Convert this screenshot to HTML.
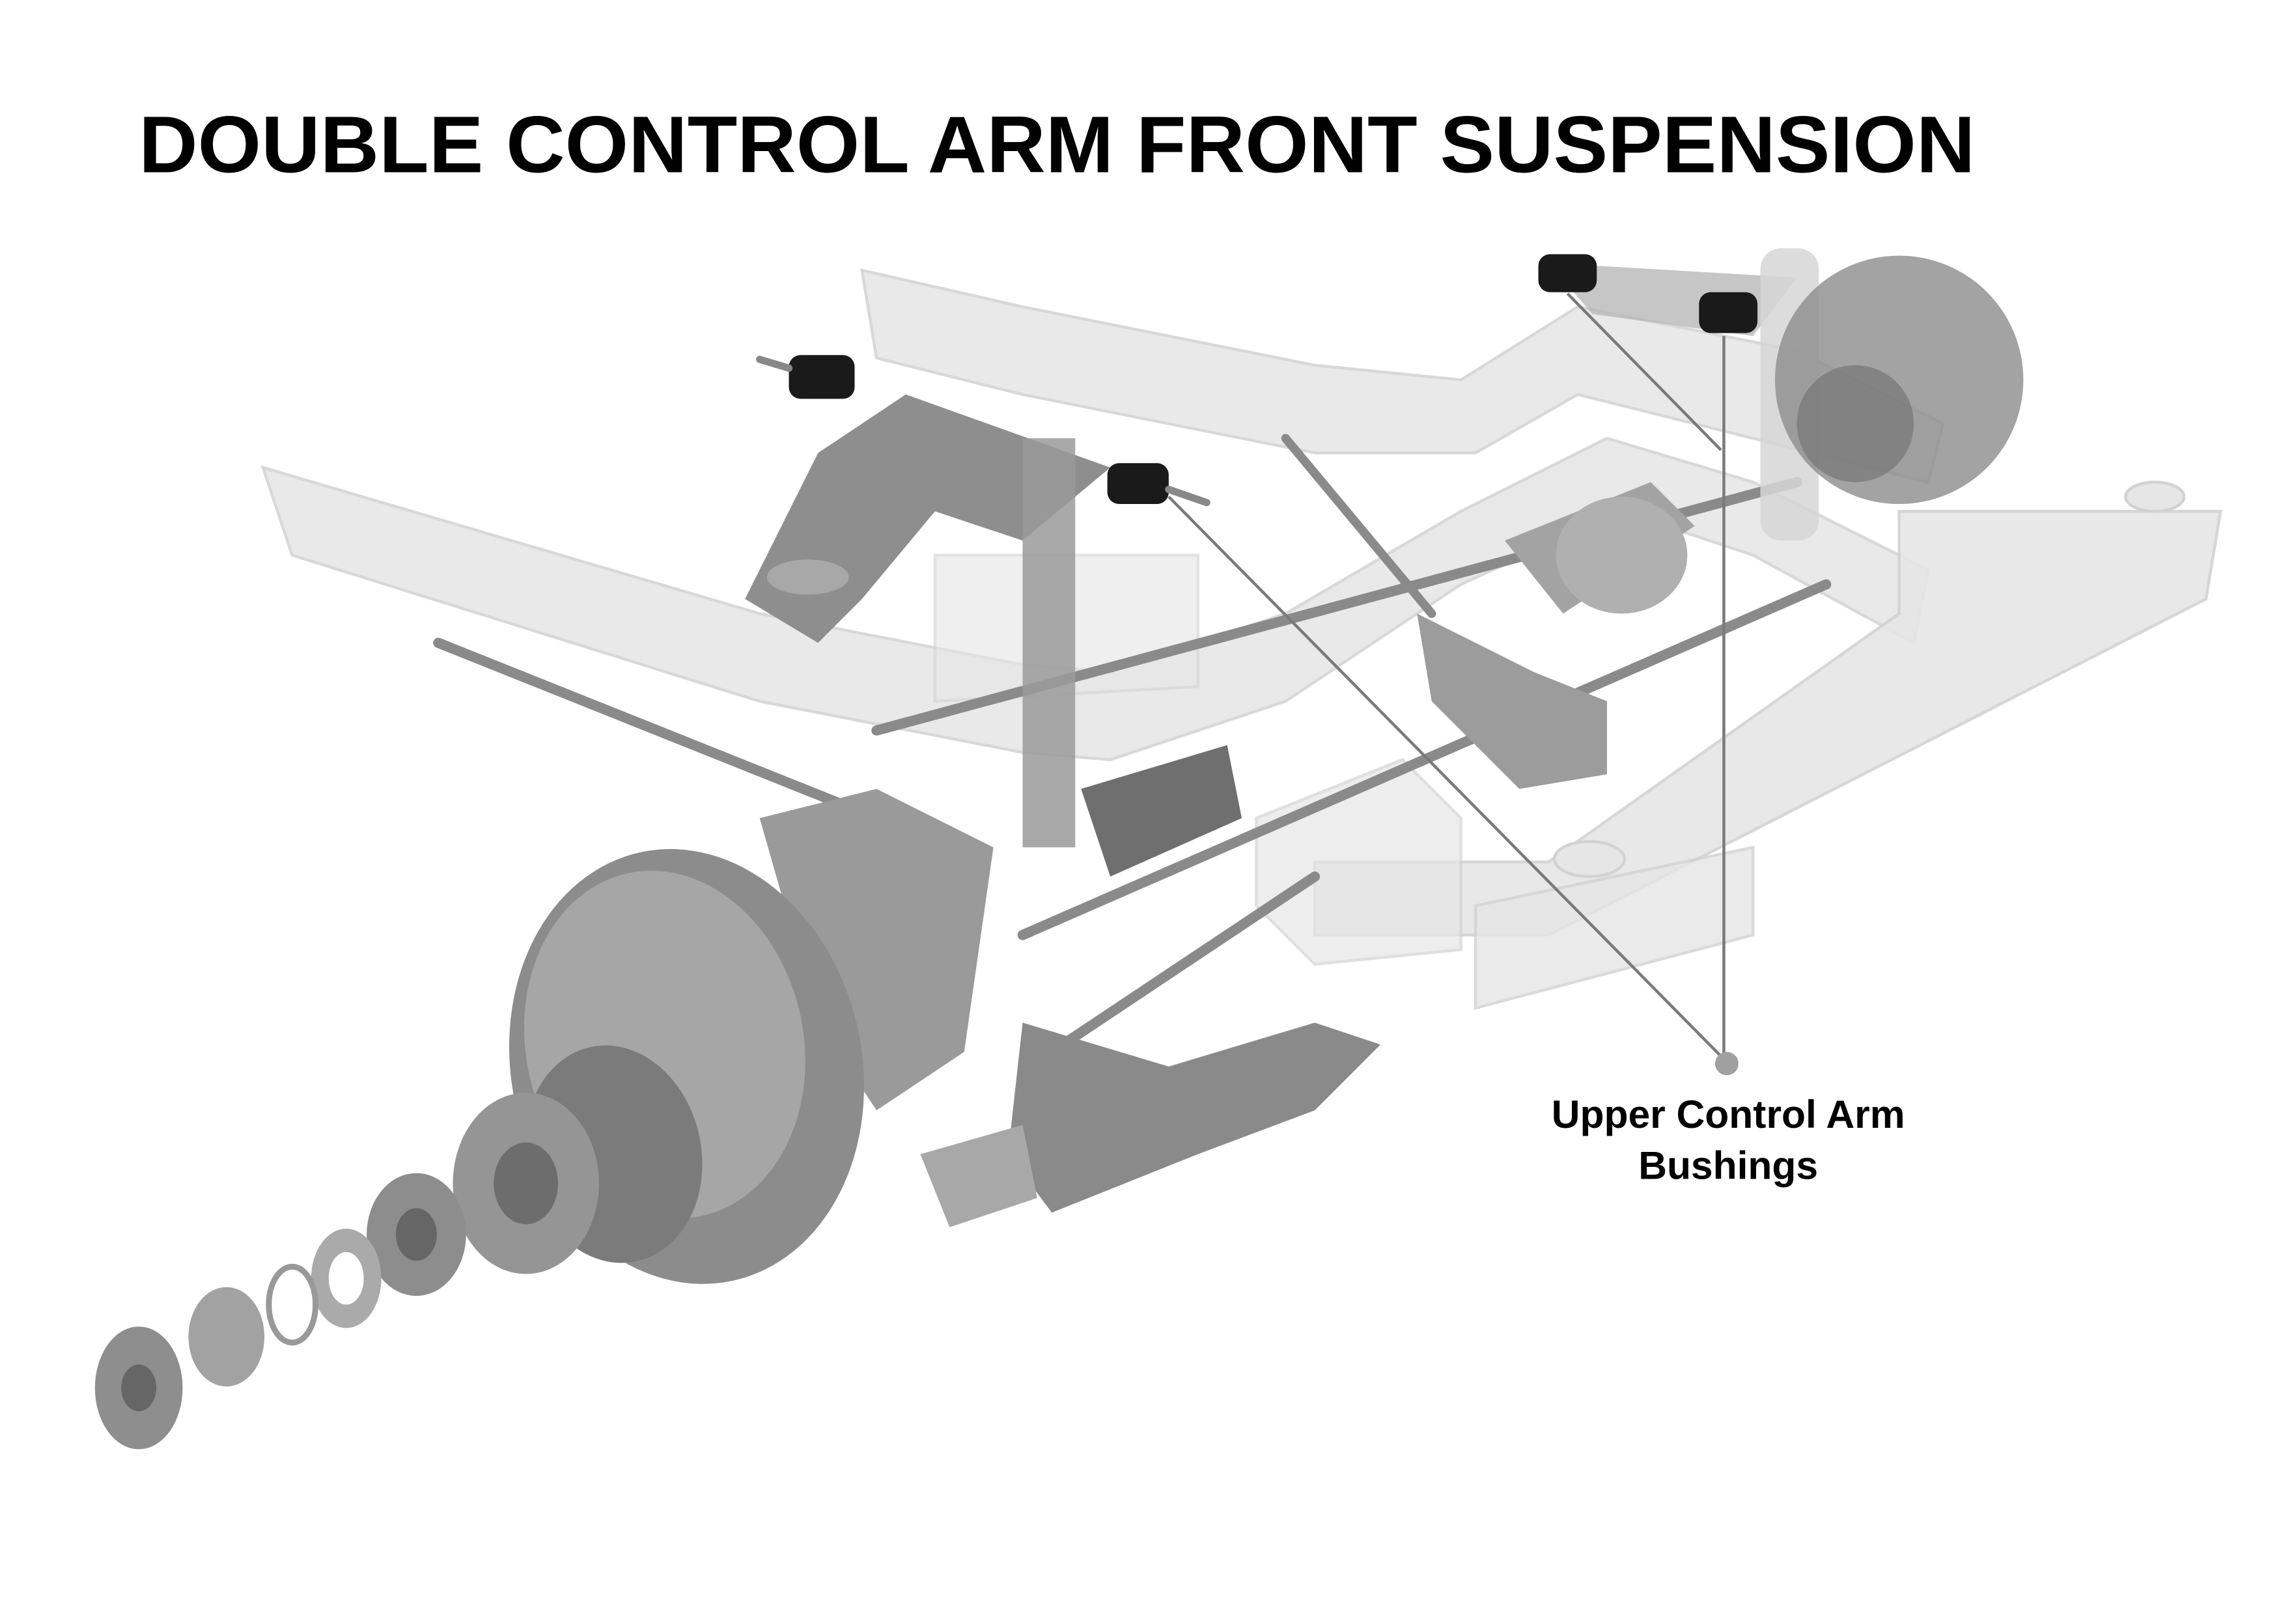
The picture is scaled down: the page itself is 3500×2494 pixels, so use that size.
<!DOCTYPE html>
<html><head><style>
html,body{margin:0;padding:0;background:#fff;}
svg{display:block;}
</style></head><body>
<svg width="3500" height="2494" viewBox="0 0 1560 1111.6" xmlns="http://www.w3.org/2000/svg">
<rect width="1560" height="1112" fill="#fff"/>
<text x="95" y="118" font-family="Liberation Sans, sans-serif" font-weight="bold" font-size="55" textLength="1257" lengthAdjust="spacingAndGlyphs" fill="#000">DOUBLE CONTROL ARM FRONT SUSPENSION</text>
<g fill="#e6e6e6" stroke="#d2d2d2" stroke-width="2">
<path d="M180 320 L520 420 L700 455 L760 460 L880 420 L1000 350 L1100 300 L1200 330 L1320 390 L1310 440 L1200 380 L1110 350 L1000 400 L880 480 L760 520 L700 515 L520 480 L200 380 Z" opacity="0.85"/>
<path d="M590 185 L700 210 L900 250 L1000 260 L1080 210 L1230 240 L1330 290 L1320 330 L1200 300 L1080 270 L1010 310 L900 310 L700 270 L600 245 Z" opacity="0.85"/>
<path d="M1300 350 L1520 350 L1510 410 L1060 640 L900 640 L900 590 L1060 590 L1300 420 Z" opacity="0.9"/>
<path d="M1010 620 L1200 580 L1200 640 L1010 690 Z" opacity="0.8"/>
<path d="M860 560 L960 520 L1000 560 L1000 650 L900 660 L860 620 Z" opacity="0.7"/>
<path d="M640 380 L820 380 L820 470 L640 480 Z" opacity="0.6"/>
<ellipse cx="1475" cy="340" rx="20" ry="10"/>
<ellipse cx="1088" cy="588" rx="24" ry="12"/>
</g>
<g stroke="#8a8a8a" stroke-width="7" fill="none" stroke-linecap="round">
<line x1="300" y1="440" x2="600" y2="560"/>
<line x1="600" y1="500" x2="1230" y2="330"/>
<line x1="700" y1="640" x2="1250" y2="400"/>
<line x1="720" y1="720" x2="900" y2="600"/>
<line x1="880" y1="300" x2="980" y2="420" stroke-width="6"/>
</g>
<path d="M510 410 L560 310 L620 270 L760 320 L700 370 L640 350 L590 410 L560 440 Z" fill="#8e8e8e"/>
<path d="M1060 180 L1230 190 L1200 230 L1090 215 Z" fill="#b8b8b8" opacity="0.8"/>
<ellipse cx="553" cy="395" rx="28" ry="12" fill="#a8a8a8"/>
<rect x="700" y="300" width="36" height="280" fill="#9a9a9a" opacity="0.85"/>
<rect x="1205" y="170" width="40" height="200" rx="14" fill="#d6d6d6" opacity="0.85"/>
<circle cx="1300" cy="260" r="85" fill="#8c8c8c" opacity="0.8"/>
<circle cx="1270" cy="290" r="40" fill="#7a7a7a" opacity="0.8"/>
<path d="M970 420 L1050 460 L1100 480 L1100 530 L1040 540 L980 480 Z" fill="#9c9c9c"/>
<path d="M1030 370 L1130 330 L1160 360 L1070 420 Z" fill="#a3a3a3"/>
<ellipse cx="1110" cy="380" rx="45" ry="40" fill="#b0b0b0"/>
<path d="M740 540 L840 510 L850 560 L760 600 Z" fill="#6f6f6f"/>
<path d="M520 560 L600 540 L680 580 L660 720 L600 760 L560 700 Z" fill="#9a9a9a"/>
<path d="M700 700 L800 730 L900 700 L945 715 L900 760 L820 790 L720 830 L690 790 Z" fill="#8a8a8a"/>
<path d="M630 790 L700 770 L710 820 L650 840 Z" fill="#a8a8a8"/>
<ellipse cx="470" cy="730" rx="120" ry="150" fill="#8c8c8c" transform="rotate(-12 470 730)"/>
<ellipse cx="455" cy="715" rx="95" ry="120" fill="#a6a6a6" transform="rotate(-12 455 715)"/>
<ellipse cx="420" cy="790" rx="60" ry="75" fill="#7b7b7b" transform="rotate(-12 420 790)"/>
<ellipse cx="360" cy="810" rx="50" ry="62" fill="#959595"/>
<ellipse cx="360" cy="810" rx="22" ry="28" fill="#6d6d6d"/>
<ellipse cx="285" cy="845" rx="34" ry="42" fill="#8d8d8d"/>
<ellipse cx="285" cy="845" rx="14" ry="18" fill="#666"/>
<ellipse cx="237" cy="875" rx="24" ry="34" fill="#aaa"/>
<ellipse cx="237" cy="875" rx="12" ry="18" fill="#fff"/>
<ellipse cx="200" cy="893" rx="16" ry="26" fill="none" stroke="#999" stroke-width="4"/>
<ellipse cx="155" cy="915" rx="26" ry="34" fill="#a2a2a2"/>
<ellipse cx="95" cy="950" rx="30" ry="42" fill="#8e8e8e"/>
<ellipse cx="95" cy="950" rx="12" ry="16" fill="#666"/>
<g fill="#1a1a1a">
<rect x="540" y="243" width="45" height="30" rx="8"/>
<rect x="758" y="317" width="42" height="28" rx="8"/>
<rect x="1053" y="174" width="40" height="26" rx="8"/>
<rect x="1163" y="200" width="40" height="28" rx="8"/>
</g>
<g stroke="#888" stroke-width="5" stroke-linecap="round">
<line x1="520" y1="246" x2="540" y2="252"/>
<line x1="800" y1="335" x2="826" y2="344"/>
</g>
<g stroke="#7a7a7a" stroke-width="2" fill="none">
<line x1="800" y1="340" x2="1183" y2="728"/>
<line x1="1180" y1="230" x2="1180" y2="728"/>
<line x1="1073" y1="201" x2="1178" y2="308"/>
</g>
<circle cx="1182" cy="728" r="8" fill="#a0a0a0"/>
<g font-family="Liberation Sans, sans-serif" font-weight="bold" font-size="27" fill="#000" text-anchor="middle">
<text x="1183" y="772">Upper Control Arm</text>
<text x="1183" y="807">Bushings</text>
</g>
</svg>
</body></html>
